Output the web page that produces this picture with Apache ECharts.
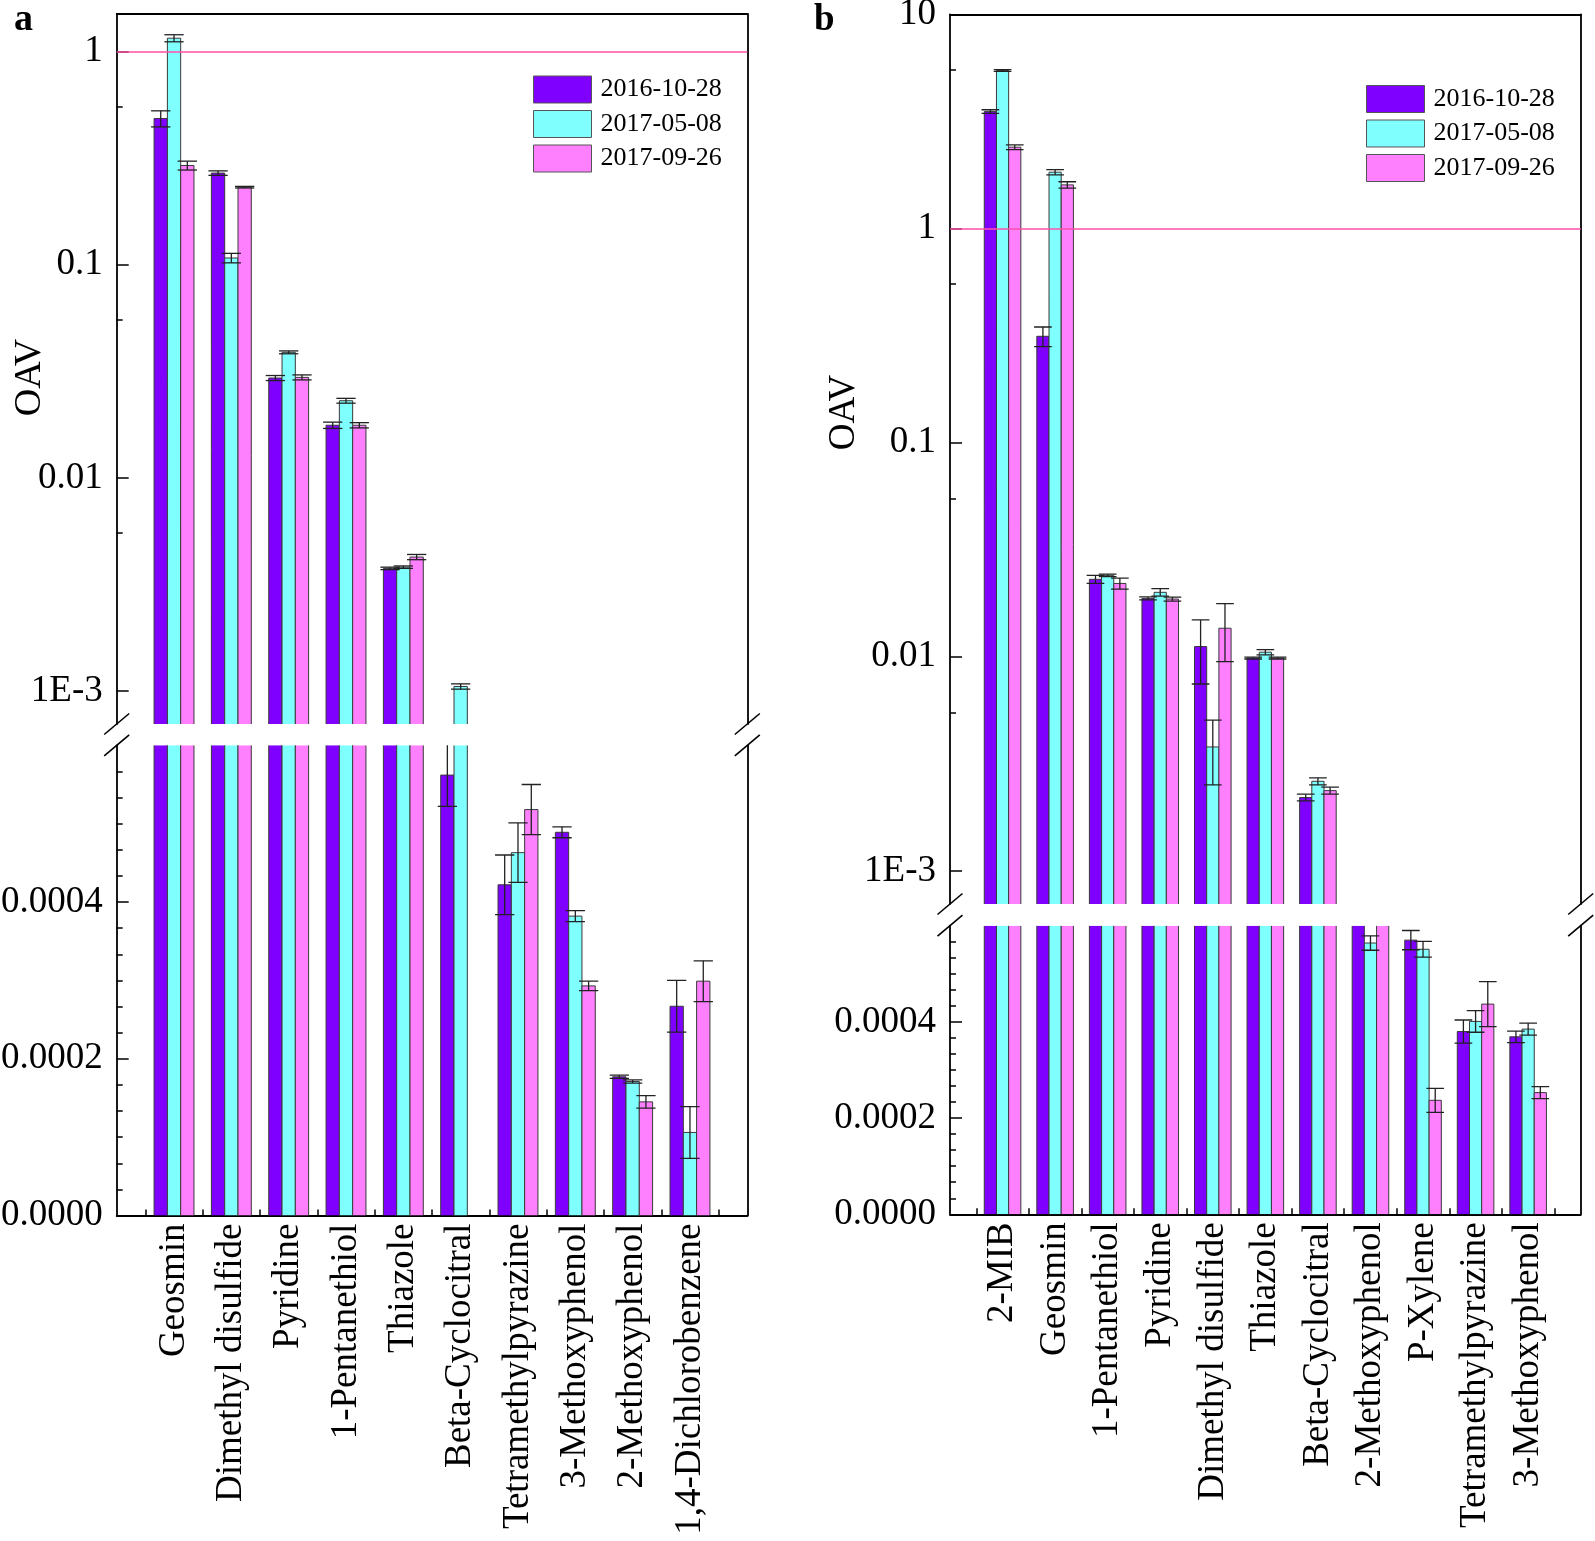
<!DOCTYPE html>
<html>
<head>
<meta charset="utf-8">
<script src="https://cdn.jsdelivr.net/npm/echarts@6/dist/echarts.min.js"></script>
<style>
html,body{margin:0;padding:0;background:#fff;}
#main{width:1595px;height:1541px;}
</style>
</head>
<body>
<div id="main"></div>
<script>
// ---------------- DATA ----------------
const seriesNames = ['2016-10-28', '2017-05-08', '2017-09-26'];

// Panel a
const categoriesA = ['Geosmin', 'Dimethyl disulfide', 'Pyridine', '1-Pentanethiol', 'Thiazole',
  'Beta-Cyclocitral', 'Tetramethylpyrazine', '3-Methoxyphenol', '2-Methoxyphenol', '1,4-Dichlorobenzene'];
const a_2016_10_28 = [0.485, 0.269, 0.0294, 0.01765, 0.00376, 0.000562, 0.000422, 0.000489, 0.000177, 0.000267];
const a_2017_05_08 = [1.155, 0.1075, 0.0388, 0.0230, 0.00381, 0.00105, 0.000463, 0.000382, 0.000171, 0.000106];
const a_2017_09_26 = [0.292, 0.231, 0.0296, 0.01765, 0.00425, null, 0.000518, 0.000293, 0.000145, 0.000299];
const aErr_2016_10_28 = [0.042, 0.0065, 0.0008, 0.0006, 0.00005, 0.00004, 0.000038, 0.000007, 0.000002, 0.000033];
const aErr_2017_05_08 = [0.044, 0.0055, 0.0006, 0.0006, 0.00005, 0.00003, 0.000038, 0.000007, 0.000002, 0.000033];
const aErr_2017_09_26 = [0.014, 0.002, 0.0008, 0.0005, 0.00012, null, 0.000032, 0.000006, 0.000008, 0.000026];

// Panel b
const categoriesB = ['2-MIB', 'Geosmin', '1-Pentanethiol', 'Pyridine', 'Dimethyl disulfide', 'Thiazole',
  'Beta-Cyclocitral', '2-Methoxyphenol', 'P-Xylene', 'Tetramethylpyrazine', '3-Methoxyphenol'];
const b_2016_10_28 = [3.52, 0.314, 0.0230, 0.01873, 0.01116, 0.00986, 0.00220, 0.00065, 0.00057, 0.000380, 0.000369];
const b_2017_05_08 = [5.48, 1.834, 0.0240, 0.0200, 0.00379, 0.0105, 0.00262, 0.000564, 0.000551, 0.000401, 0.000385];
const b_2017_09_26 = [2.40, 1.600, 0.0220, 0.0186, 0.01359, 0.00986, 0.00237, 0.00065, 0.000237, 0.000437, 0.000253];
const bErr_2016_10_28 = [0.07, 0.033, 0.001, 0.0003, 0.0037, 0.0001, 0.00008, 0.00002, 0.00002, 0.000024, 0.000012];
const bErr_2017_05_08 = [0.05, 0.053, 0.0003, 0.0008, 0.00127, 0.0003, 0.0001, 0.000015, 0.0000165, 0.0000225, 0.0000126];
const bErr_2017_09_26 = [0.06, 0.055, 0.0013, 0.0004, 0.0041, 0.0001, 0.00009, 0.00002, 0.000025, 0.0000467, 0.0000126];

// Tick values / labels
const logTicksA = [0.001, 0.01, 0.1, 1];
const logTickLabelsA = ['1E-3', '0.01', '0.1', '1'];
const logMinorTicksA = [0.0055, 0.055, 0.55];
const logTicksB = [0.001, 0.01, 0.1, 1, 10];
const logTickLabelsB = ['1E-3', '0.01', '0.1', '1', '10'];
const logMinorTicksB = [0.0055, 0.055, 0.55, 5.5];
const linTicks = [0, 0.0002, 0.0004];
const linTickLabels = ['0.0000', '0.0002', '0.0004'];
const thresholdOAV = 1;

// ---------------- STYLE / LAYOUT ----------------
const FONT = '"Liberation Serif", "Times New Roman", Times, serif';
const COLORS = ['#8000ff', '#80ffff', '#ff80ff'];
const BORDER = '#3a3a3a';
const ERR_COLOR = '#222';
const AXW = 1.8;
const BAR_FRAC = 0.232;
const CAP_FRAC = 1.45;

const PANEL_A = { left: 116.7, width: 630.6, top: 14, brkTop: 724, brkBot: 745.3, bottom: 1215.5,
  logMin: 0.0007, logMax: 1.5, linMax: 0.0006 };
const PANEL_B = { left: 950, width: 630.7, top: 14.5, brkTop: 904, brkBot: 925.7, bottom: 1214.3,
  logMin: 0.0007, logMax: 10, linMax: 0.0006 };

function nearestIdx(arr, v) {
  let best = 0, bd = Infinity;
  arr.forEach((t, i) => { const d = Math.abs(Math.log10(t) - Math.log10(Math.max(v, 1e-12))); if (d < bd) { bd = d; best = i; } });
  return best;
}
function nearestLin(arr, v) {
  let best = 0, bd = Infinity;
  arr.forEach((t, i) => { const d = Math.abs(t - v); if (d < bd) { bd = d; best = i; } });
  return best;
}

function barRender(slot) {
  return function (params, api) {
    const v = api.value(1);
    if (!(v > 0)) return null;
    const ci = api.value(0);
    const cs = params.coordSys;
    const pt = api.coord([ci, v]);
    const band = Math.abs(api.coord([ci + 1, v])[0] - pt[0]);
    const w = band * BAR_FRAC;
    const cx = pt[0] + (slot - 1) * w;
    const bottom = cs.y + cs.height;
    if (pt[1] >= bottom) return null;
    const clamped = pt[1] < cs.y;
    const top = clamped ? cs.y : pt[1];
    const x0 = cx - w / 2, x1 = cx + w / 2;
    const fill = api.visual('color');
    const edge = { stroke: BORDER, lineWidth: 1, fill: null };
    const children = [{ type: 'rect', shape: { x: x0, y: top, width: w, height: bottom - top }, style: { fill: fill, stroke: null } }];
    if (clamped) {
      children.push({ type: 'line', shape: { x1: x0, y1: top, x2: x0, y2: bottom }, style: edge });
      children.push({ type: 'line', shape: { x1: x1, y1: top, x2: x1, y2: bottom }, style: edge });
    } else {
      children.push({ type: 'polyline', shape: { points: [[x0, bottom], [x0, top], [x1, top], [x1, bottom]] }, style: edge });
    }
    return { type: 'group', children: children };
  };
}

function errRender(slot) {
  return function (params, api) {
    const v = api.value(1), e = api.value(2);
    if (!(v > 0) || !(e > 0)) return null;
    const ci = api.value(0);
    const cs = params.coordSys;
    const pt = api.coord([ci, v]);
    if (pt[1] < cs.y - 0.5 || pt[1] > cs.y + cs.height + 0.5) return null;
    const band = Math.abs(api.coord([ci + 1, v])[0] - pt[0]);
    const w = band * BAR_FRAC;
    const cx = pt[0] + (slot - 1) * w;
    const yHi = api.coord([ci, v + e])[1];
    const lo = v - e;
    const yLo = lo > 0 ? api.coord([ci, lo])[1] : cs.y + cs.height;
    const hw = w * CAP_FRAC / 2;
    const st = { stroke: ERR_COLOR, lineWidth: 1.3, fill: null };
    return { type: 'group', children: [
      { type: 'line', shape: { x1: cx, y1: yHi, x2: cx, y2: yLo }, style: st },
      { type: 'line', shape: { x1: cx - hw, y1: yHi, x2: cx + hw, y2: yHi }, style: st },
      { type: 'line', shape: { x1: cx - hw, y1: yLo, x2: cx + hw, y2: yLo }, style: st }
    ] };
  };
}

const option = { animation: false, backgroundColor: '#fff', grid: [], xAxis: [], yAxis: [], series: [], legend: [], graphic: [] };

const axisLineStyle = { color: '#000', width: AXW };
const tickLineStyle = { color: '#000', width: 1.5 };

function addPanel(P, cats, vals, errs, logTicks, logLabels, logMinor, legendPos) {
  const gTop = option.grid.length;
  const gBot = gTop + 1;
  option.grid.push({ left: P.left, top: P.top, width: P.width, height: P.brkTop - P.top, containLabel: false, outerBoundsMode: 'none' });
  option.grid.push({ left: P.left, top: P.brkBot, width: P.width, height: P.bottom - P.brkBot, containLabel: false, outerBoundsMode: 'none' });

  const padded = [' '].concat(cats, ['  ']);
  const xTop = option.xAxis.length;
  option.xAxis.push({ gridIndex: gTop, type: 'category', data: padded, boundaryGap: false, position: 'top',
    axisLine: { show: true, onZero: false, lineStyle: axisLineStyle }, axisTick: { show: false }, axisLabel: { show: false }, splitLine: { show: false } });
  const xBot = xTop + 1;
  option.xAxis.push({ gridIndex: gBot, type: 'category', data: padded, boundaryGap: false, position: 'bottom',
    axisLine: { show: true, onZero: false, lineStyle: axisLineStyle },
    axisTick: { show: true, inside: true, length: 12, interval: function (i) { return i > 0 && i < padded.length - 1; }, lineStyle: tickLineStyle },
    axisLabel: { show: true, interval: 0, rotate: 90, margin: 8, fontFamily: FONT, fontSize: 37, color: '#000', hideOverlap: false },
    splitLine: { show: false } });
  option.xAxis.push({ gridIndex: gBot, type: 'category', data: padded.slice(1), boundaryGap: true, position: 'bottom',
    axisLine: { show: false, onZero: false },
    axisTick: { show: true, inside: true, length: 6, alignWithLabel: true, interval: 0, lineStyle: tickLineStyle },
    axisLabel: { show: false }, splitLine: { show: false } });

  const yLog = option.yAxis.length;
  option.yAxis.push({ gridIndex: gTop, type: 'log', min: P.logMin, max: P.logMax, position: 'left',
    axisLine: { show: true, onZero: false, lineStyle: axisLineStyle },
    axisTick: { show: true, inside: true, length: 12, customValues: logTicks, lineStyle: tickLineStyle },
    axisLabel: { show: true, customValues: logTicks, formatter: function (v) { return logLabels[nearestIdx(logTicks, v)]; },
      fontFamily: FONT, fontSize: 37, color: '#000', margin: 14 },
    splitLine: { show: false }, minorTick: { show: false } });
  option.yAxis.push({ gridIndex: gTop, type: 'log', min: P.logMin, max: P.logMax, position: 'left',
    axisLine: { show: false, onZero: false },
    axisTick: { show: true, inside: true, length: 6, customValues: logMinor, lineStyle: tickLineStyle },
    axisLabel: { show: false }, splitLine: { show: false } });
  option.yAxis.push({ gridIndex: gTop, type: 'value', min: 0, max: 1, position: 'right',
    axisLine: { show: true, onZero: false, lineStyle: axisLineStyle }, axisTick: { show: false }, axisLabel: { show: false }, splitLine: { show: false } });
  const yLin = option.yAxis.length;
  option.yAxis.push({ gridIndex: gBot, type: 'value', min: 0, max: P.linMax, interval: 0.0002, position: 'left',
    axisLine: { show: true, onZero: false, lineStyle: axisLineStyle },
    axisTick: { show: true, inside: true, length: 12, customValues: linTicks, lineStyle: tickLineStyle },
    minorTick: { show: true, splitNumber: 6, length: 6, lineStyle: tickLineStyle },
    axisLabel: { show: true, customValues: linTicks, formatter: function (v) { return linTickLabels[nearestLin(linTicks, v)]; },
      fontFamily: FONT, fontSize: 37, color: '#000', margin: 14 },
    splitLine: { show: false }, minorSplitLine: { show: false } });
  option.yAxis.push({ gridIndex: gBot, type: 'value', min: 0, max: 1, position: 'right',
    axisLine: { show: true, onZero: false, lineStyle: axisLineStyle }, axisTick: { show: false }, axisLabel: { show: false }, splitLine: { show: false } });

  for (let i = 0; i < 3; i++) {
    const data = vals[i].map(function (v, k) { return [k + 1, v, errs[i][k]]; });
    const topSeries = { type: 'custom', name: seriesNames[i], coordinateSystem: 'cartesian2d', xAxisIndex: xTop, yAxisIndex: yLog,
      renderItem: barRender(i), data: data, encode: { x: 0, y: 1 }, clip: true, z: 2,
      itemStyle: { color: COLORS[i], borderColor: BORDER, borderWidth: 1 } };
    if (i === 0) {
      topSeries.markLine = { silent: true, symbol: 'none', z: 6, label: { show: false },
        lineStyle: { color: '#ff4fa8', width: 1.5, type: 'solid' }, data: [{ yAxis: thresholdOAV }] };
    }
    option.series.push(topSeries);
    option.series.push({ type: 'custom', name: seriesNames[i], coordinateSystem: 'cartesian2d', xAxisIndex: xBot, yAxisIndex: yLin,
      renderItem: barRender(i), data: data, encode: { x: 0, y: 1 }, clip: true, z: 2,
      itemStyle: { color: COLORS[i], borderColor: BORDER, borderWidth: 1 } });
  }
  for (let i = 0; i < 3; i++) {
    const data = vals[i].map(function (v, k) { return [k + 1, v, errs[i][k]]; });
    option.series.push({ type: 'custom', name: seriesNames[i], coordinateSystem: 'cartesian2d', xAxisIndex: xTop, yAxisIndex: yLog,
      renderItem: errRender(i), data: data, encode: { x: 0, y: 1 }, clip: true, z: 5, itemStyle: { color: COLORS[i] } });
    option.series.push({ type: 'custom', name: seriesNames[i], coordinateSystem: 'cartesian2d', xAxisIndex: xBot, yAxisIndex: yLin,
      renderItem: errRender(i), data: data, encode: { x: 0, y: 1 }, clip: true, z: 5, itemStyle: { color: COLORS[i] } });
  }

  option.legend.push({ data: seriesNames, orient: 'vertical', left: legendPos[0], top: legendPos[1], padding: 0,
    itemWidth: 58, itemHeight: 27, itemGap: 6.5, icon: 'rect', selectedMode: false,
    itemStyle: { borderColor: '#555', borderWidth: 1 },
    textStyle: { fontFamily: FONT, fontSize: 26, color: '#000', lineHeight: 27, padding: [0, 0, 0, 4] } });

  // axis-break marks
  [P.left, P.left + P.width].forEach(function (x) {
    [P.brkTop, P.brkBot].forEach(function (y) {
      option.graphic.push({ type: 'line', z: 100, shape: { x1: x - 12.5, y1: y + 10.5, x2: x + 12.5, y2: y - 10.5 },
        style: { stroke: '#000', lineWidth: 1.6 } });
    });
  });
}

addPanel(PANEL_A, categoriesA, [a_2016_10_28, a_2017_05_08, a_2017_09_26],
  [aErr_2016_10_28, aErr_2017_05_08, aErr_2017_09_26], logTicksA, logTickLabelsA, logMinorTicksA, [533, 75.5]);
addPanel(PANEL_B, categoriesB, [b_2016_10_28, b_2017_05_08, b_2017_09_26],
  [bErr_2016_10_28, bErr_2017_05_08, bErr_2017_09_26], logTicksB, logTickLabelsB, logMinorTicksB, [1366, 85]);

// titles
option.graphic.push({ type: 'text', x: 14, y: 20, z: 100, style: { text: 'a', fontFamily: FONT, fontWeight: 'bold', fontSize: 38, fill: '#000', align: 'left', verticalAlign: 'middle' } });
option.graphic.push({ type: 'text', x: 814, y: 20, z: 100, style: { text: 'b', fontFamily: FONT, fontWeight: 'bold', fontSize: 37, fill: '#000', align: 'left', verticalAlign: 'middle' } });
option.graphic.push({ type: 'text', x: 30.4, y: 377.5, rotation: Math.PI / 2, z: 100, style: { text: 'OAV', fontFamily: FONT, fontSize: 38, fill: '#000', align: 'center', verticalAlign: 'middle' } });
option.graphic.push({ type: 'text', x: 843.8, y: 412.5, rotation: Math.PI / 2, z: 100, style: { text: 'OAV', fontFamily: FONT, fontSize: 37, fill: '#000', align: 'center', verticalAlign: 'middle' } });

const chart = echarts.init(document.getElementById('main'), null, { renderer: 'canvas', width: 1595, height: 1541 });
chart.setOption(option);
</script>
</body>
</html>
